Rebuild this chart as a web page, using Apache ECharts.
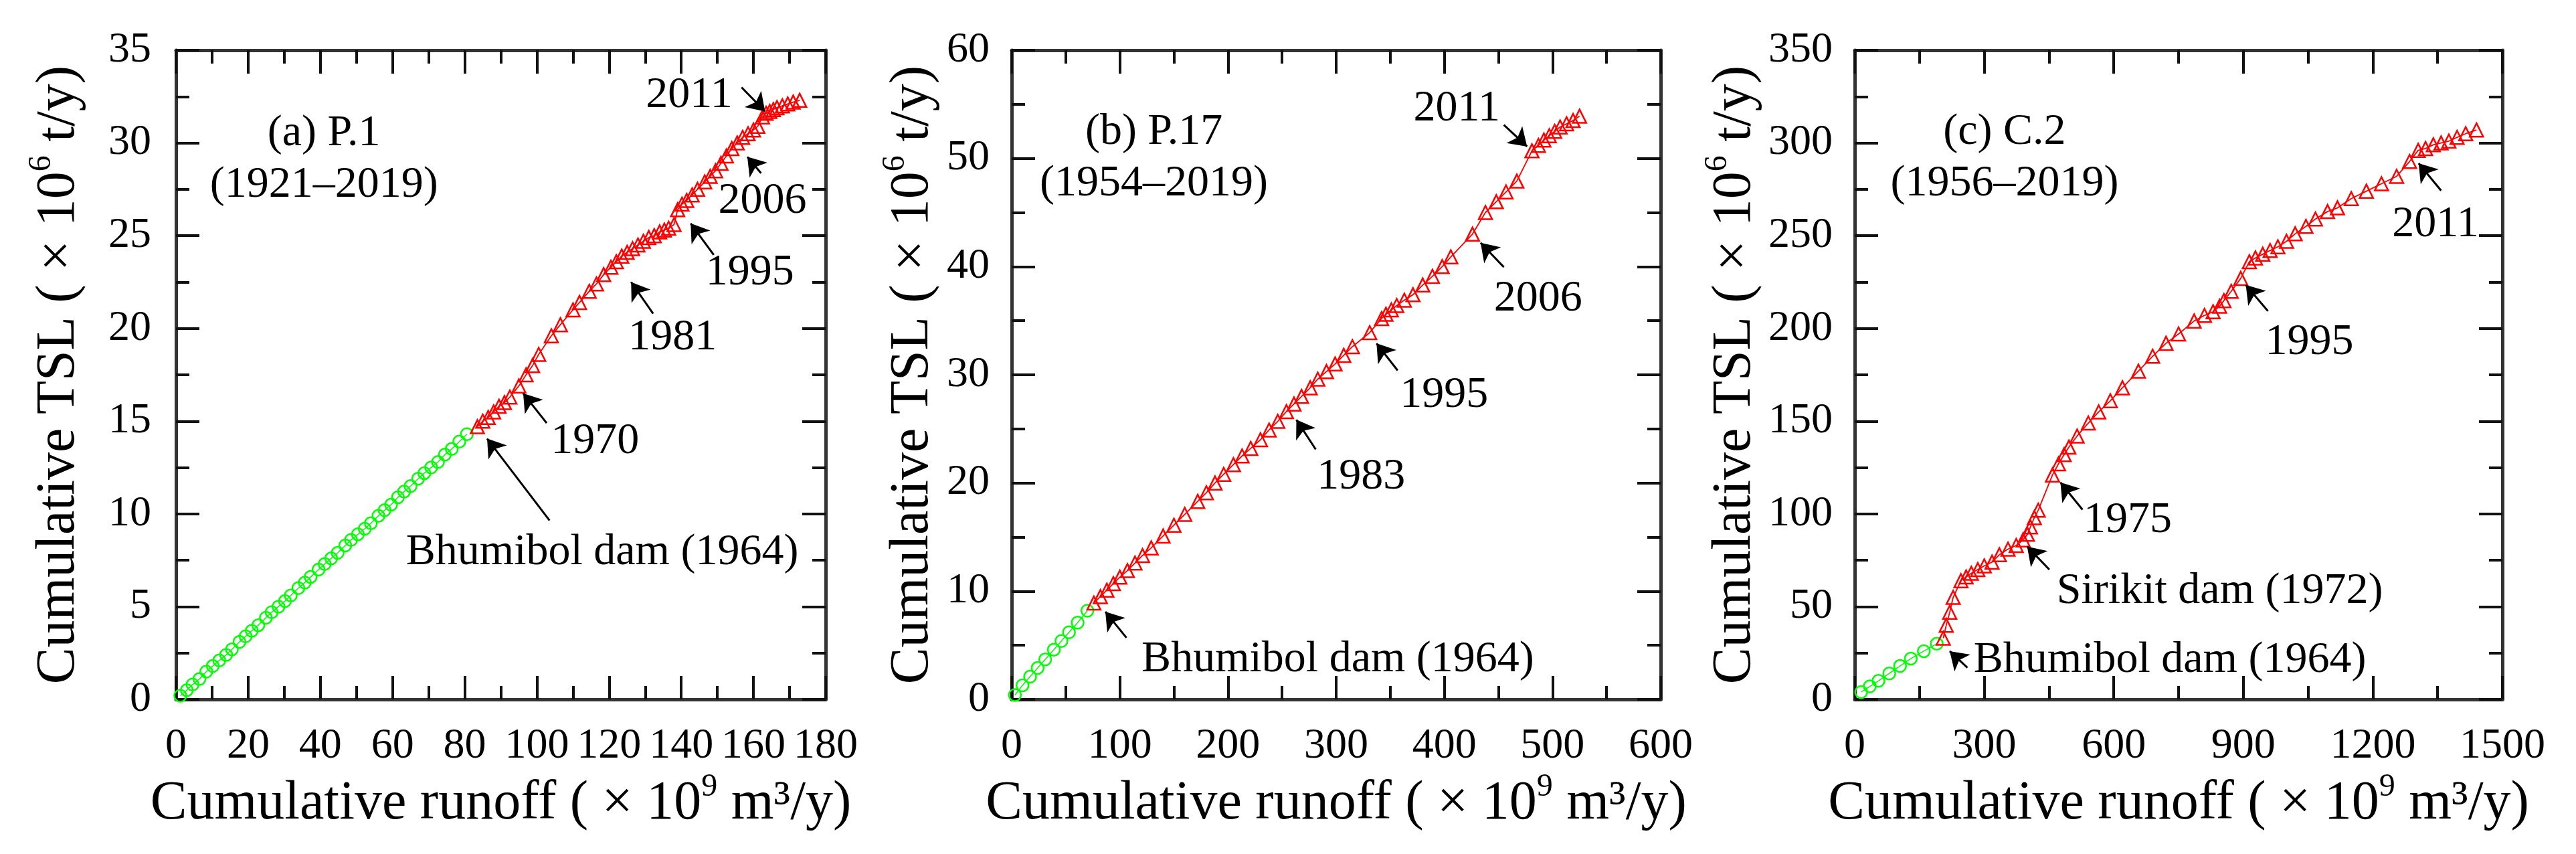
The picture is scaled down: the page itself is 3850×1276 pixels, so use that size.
<!DOCTYPE html>
<html><head><meta charset="utf-8">
<script src="https://cdn.jsdelivr.net/npm/echarts@6/dist/echarts.min.js"></script>
<style>html,body{margin:0;padding:0;background:#fff}#c{width:3850px;height:1276px}</style>
</head><body><div id="c"></div>
<script>
// ---- data (cumulative runoff, cumulative TSL) ----
const preDamA = [[1.2,0.2],[3.0,0.5],[4.6,0.8],[6.5,1.1],[8.4,1.5],[10.2,1.8],[12.0,2.1],[13.9,2.4],[15.5,2.7],[17.6,3.1],[19.3,3.4],[21.0,3.7],[22.8,4.0],[24.9,4.4],[26.5,4.7],[28.4,5.0],[30.2,5.3],[31.8,5.6],[33.9,6.0],[35.7,6.3],[37.3,6.6],[39.5,7.0],[41.2,7.3],[43.0,7.6],[44.8,7.9],[46.9,8.3],[48.5,8.6],[50.4,8.9],[52.3,9.2],[54.0,9.5],[56.1,9.9],[57.8,10.2],[59.6,10.5],[61.5,10.9],[63.2,11.2],[65.0,11.5],[67.1,11.9],[68.8,12.2],[70.7,12.5],[72.6,12.8],[74.5,13.2],[76.4,13.5],[78.5,13.9],[80.6,14.3]];
const postDamA = [[83.5,14.7],[85.0,15.0],[86.5,15.2],[88.0,15.5],[89.5,15.8],[91.0,16.0],[92.5,16.3],[95.0,16.9],[97.0,17.5],[98.8,18.0],[100.5,18.6],[104.0,19.6],[106.5,20.2],[110.0,21.0],[111.8,21.4],[114.5,22.0],[116.5,22.4],[118.5,22.9],[120.5,23.3],[122.0,23.6],[123.5,23.9],[125.0,24.1],[126.5,24.3],[128.0,24.5],[129.5,24.7],[131.0,24.9],[132.5,25.0],[134.0,25.2],[135.3,25.3],[136.5,25.4],[138.0,25.6],[139.0,26.4],[140.2,26.7],[141.5,26.9],[143.0,27.2],[144.5,27.5],[146.5,27.9],[148.0,28.2],[149.5,28.5],[151.0,28.9],[152.5,29.3],[154.0,29.7],[155.5,30.0],[157.0,30.3],[158.5,30.5],[160.0,30.7],[161.2,30.9],[162.5,31.4],[163.5,31.6],[164.5,31.7],[165.5,31.8],[166.5,31.9],[168.0,32.0],[169.5,32.1],[171.0,32.2],[172.8,32.3]];
const preDamB = [[3,0.4],[10,1.3],[17,2.1],[24,2.9],[31,3.7],[39,4.6],[46,5.4],[53,6.2],[61,7.1],[70,8.2]];
const postDamB = [[76,8.9],[82,9.5],[88,10.1],[94,10.7],[100,11.3],[107,11.9],[114,12.6],[121,13.3],[129,14.0],[140,15.1],[150,16.1],[160,17.1],[172,18.3],[180,19.1],[188,20.0],[196,20.8],[205,21.7],[213,22.5],[221,23.2],[230,24.0],[238,24.9],[246,25.7],[254,26.6],[261,27.3],[268,28.0],[276,28.8],[283,29.6],[291,30.3],[299,31.0],[307,31.8],[315,32.6],[331,33.9],[342,35.2],[346,35.6],[351,36.0],[356,36.4],[363,36.9],[371,37.4],[380,38.3],[389,39.1],[398,40.0],[406,40.9],[426,43.0],[438,45.0],[448,46.0],[457,46.9],[467,47.9],[481,50.7],[487,51.2],[492,51.7],[497,52.1],[502,52.5],[507,52.9],[513,53.2],[519,53.5],[525,53.9]];
const preDamC = [[15,4],[35,7],[55,10],[80,14],[105,18],[130,22],[160,26],[190,30]];
const postDamC = [[205,33],[212,40],[220,47],[228,55],[246,64],[258,66],[270,68],[285,70],[300,72],[318,74],[335,78],[355,81],[374,83],[390,86],[400,89],[407,93],[416,98],[425,102],[458,121],[472,127],[485,132],[496,136],[515,142],[541,149],[565,155],[592,161],[620,168],[657,177],[690,185],[721,192],[750,197],[786,204],[810,207],[830,209],[845,212],[855,215],[872,220],[894,227],[914,236],[928,238],[945,240],[962,242],[980,244],[1000,247],[1020,251],[1045,255],[1067,259],[1095,263],[1118,265],[1150,270],[1185,274],[1220,278],[1255,282],[1285,290],[1305,296],[1322,297],[1340,299],[1358,300],[1376,301],[1395,303],[1415,305],[1440,307]];

// axis ranges / tick labels
const xMax = [180, 600, 1500];
const xStep = [20, 100, 300];
const yMax = [35, 60, 350];
const yStep = [5, 10, 50];
const panelTitles = ['(a) P.1\n(1921–2019)', '(b) P.17\n(1954–2019)', '(c) C.2\n(1956–2019)'];

const FONT = '"Liberation Serif", "Times New Roman", serif';
const GREEN = '#00ff00', RED = '#ff0000';

// layout + annotation placement (in axis units)
const layout = [
  {left:263, width:971, yMargin:37, yGap:125, titleAt:[41,29.1],
   notes:[['2011',[142.2,32.57]],['2006',[162.5,26.84]],['1995',[159.0,23.0]],['1981',[137.6,19.5]],['1970',[116.1,13.9]],['Bhumibol dam (1964)',[118.1,7.9]]],
   arrows:[[[156.7,33.0],[163.2,31.7]],[[162.1,28.37],[158.3,29.25]],[[149.0,23.96],[142.6,25.66]],[[132.2,20.8],[126.1,22.5]],[[102.7,14.9],[96.2,16.5]],[[103.5,9.65],[86.2,14.06]]]},
  {left:1512, width:970, yMargin:33, yGap:98, titleAt:[131.5,50.0],
   notes:[['2011',[411.5,54.55]],['2006',[486.7,37.0]],['1995',[399.7,28.1]],['1983',[323.0,20.56]],['Bhumibol dam (1964)',[301.5,3.7]]],
   arrows:[[[455,53.1],[476.5,51.1]],[[455,39.95],[433.5,42.2]],[[356.8,30.4],[337.3,32.9]],[[281.1,23.1],[263.2,25.85]],[[106.1,5.7],[86.6,8.1]]]},
  {left:2772, width:968, yMargin:33, yGap:129, titleAt:[347,292],
   notes:[['2011',[1345,256]],['1995',[1053,192.6]],['1975',[632.3,96.5]],['Sirikit dam (1972)',[845.5,58.2]],['Bhumibol dam (1964)',[730,20.9]]],
   arrows:[[[1358,274.3],[1306,289]],[[956.9,209.4],[905.8,223.4]],[[527.5,102.3],[476.4,117.0]],[[450.7,70.0],[399.4,82.4]],[[261,17.1],[220,26]]]}
];
const preSets = [preDamA, preDamB, preDamC];
const postSets = [postDamA, postDamB, postDamC];

const TOP = 75, HEIGHT = 970;
const lineSty = {color:'#333', width:5};
const tickSty = {color:'#111', width:4};

function axisCommon(i, isX, main) {
  return {
    gridIndex: i, type: 'value', min: 0,
    max: isX ? xMax[i] : yMax[i], interval: isX ? xStep[i] : yStep[i],
    axisLine: {show:true, onZero:false, lineStyle: lineSty},
    axisTick: {show:true, inside:true, length:35, lineStyle: tickSty},
    minorTick: {show:true, splitNumber:2, length:20, lineStyle: tickSty},
    splitLine: {show:false},
    axisLabel: main ? {show:true, fontSize:64, fontFamily:FONT, color:'#000',
      formatter: v => String(v),
      margin: isX ? 38 : layout[i].yMargin} : {show:false}
  };
}

const grids = [], xAxes = [], yAxes = [], series = [];
for (let i = 0; i < 3; i++) {
  const L = layout[i];
  grids.push({left:L.left, top:TOP, width:L.width, height:HEIGHT, containLabel:false});
  xAxes.push(Object.assign(axisCommon(i, true, true), {
    position:'bottom',
    name:'{a|Cumulative runoff ( × 10}{s|9}{a| m³/y)}', nameLocation:'middle', nameGap:98,
    nameTextStyle:{fontFamily:FONT, rich:{
      a:{fontSize:82, fontFamily:FONT, color:'#000', lineHeight:100},
      s:{fontSize:48, fontFamily:FONT, color:'#000', lineHeight:70, verticalAlign:'top'}}}
  }));
  xAxes.push(Object.assign(axisCommon(i, true, false), {position:'top'}));
  yAxes.push(Object.assign(axisCommon(i, false, true), {
    position:'left',
    name:'{a|Cumulative TSL ( × 10}{s|6}{a| t/y)}', nameLocation:'middle', nameRotate:90, nameGap:L.yGap,
    nameTextStyle:{fontFamily:FONT, rich:{
      a:{fontSize:82, fontFamily:FONT, color:'#000', lineHeight:100},
      s:{fontSize:48, fontFamily:FONT, color:'#000', lineHeight:14, verticalAlign:'top'}}}
  }));
  yAxes.push(Object.assign(axisCommon(i, false, false), {position:'right'}));

  series.push({
    type:'line', xAxisIndex:2*i, yAxisIndex:2*i, data:preSets[i],
    symbol:'circle', symbolSize:18, showSymbol:true,
    itemStyle:{color:'rgba(0,0,0,0)', borderColor:GREEN, borderWidth:2.5},
    lineStyle:{color:GREEN, width:1.5}, z:3, silent:true, animation:false
  });
  const notePts = L.notes.map(n => ({coord:n[1], value:n[0]}));
  notePts.push({coord:L.titleAt, value:panelTitles[i]});
  series.push({
    type:'line', xAxisIndex:2*i, yAxisIndex:2*i, data:postSets[i],
    symbol:'triangle', symbolSize:20, showSymbol:true,
    itemStyle:{color:'rgba(0,0,0,0)', borderColor:RED, borderWidth:2.5},
    lineStyle:{color:RED, width:1.8}, z:4, silent:true, animation:false,
    markPoint:{
      symbol:'circle', symbolSize:1, silent:true, animation:false,
      itemStyle:{color:'rgba(0,0,0,0)'},
      label:{show:true, position:'inside', formatter:p => p.value, color:'#000',
        fontSize:66, fontFamily:FONT, lineHeight:77, align:'center'},
      data:notePts
    },
    markLine:{
      silent:true, animation:false, symbol:['none','arrow'], symbolSize:26,
      itemStyle:{color:'#000'},
      lineStyle:{color:'#000', width:3, type:'solid'}, label:{show:false},
      emphasis:{disabled:true},
      data:L.arrows.map(a => [{coord:a[0]}, {coord:a[1]}])
    }
  });
}

const chart = echarts.init(document.getElementById('c'), null, {renderer:'canvas'});
chart.setOption({
  backgroundColor:'#fff', animation:false,
  textStyle:{fontFamily:FONT},
  grid:grids, xAxis:xAxes, yAxis:yAxes, series:series
});
</script></body></html>
